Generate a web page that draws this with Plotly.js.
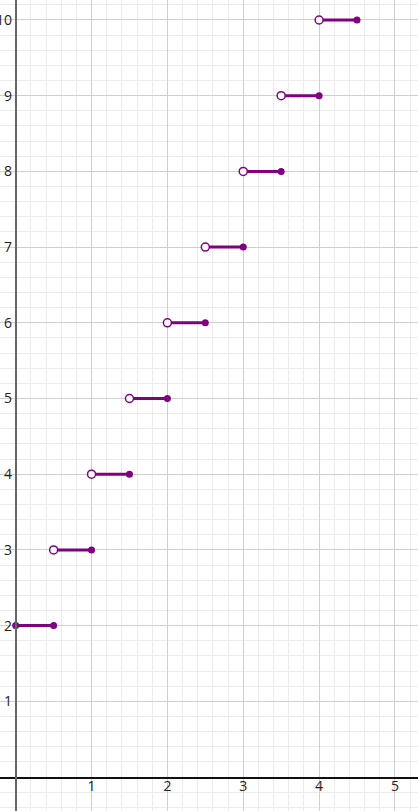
<!DOCTYPE html>
<html>
<head>
<meta charset="utf-8">
<script src="https://cdn.plot.ly/plotly-3.0.1.min.js"></script>
<style>html,body{margin:0;padding:0;background:#fff}#chart{width:418px;height:811px}</style>
</head>
<body>
<div id="chart"></div>
<script>
// Step function segments: y = level on [xStart, xEnd]
const levels = [2, 3, 4, 5, 6, 7, 8, 9, 10];
const xStart = [0, 0.5, 1, 1.5, 2, 2.5, 3, 3.5, 4];
const xEnd   = [0.5, 1, 1.5, 2, 2.5, 3, 3.5, 4, 4.5];
// left endpoint closed (true) or open (false)
const leftClosed = [true, false, false, false, false, false, false, false, false];

const xTickVals = [1, 2, 3, 4, 5];
const xTickText = ['1', '2', '3', '4', '5'];
const yTickVals = [1, 2, 3, 4, 5, 6, 7, 8, 9, 10];
const yTickText = ['1', '2', '3', '4', '5', '6', '7', '8', '9', '10'];

const purple = '#800080';

const lx = [], ly = [];
levels.forEach((v, i) => { lx.push(xStart[i], xEnd[i], null); ly.push(v, v, null); });

const fx = [], fy = [], ox = [], oy = [];
levels.forEach((v, i) => {
  fx.push(xEnd[i]); fy.push(v);
  if (leftClosed[i]) { fx.push(xStart[i]); fy.push(v); } else { ox.push(xStart[i]); oy.push(v); }
});

const traces = [
  {x: lx, y: ly, mode: 'lines', line: {color: purple, width: 3}, hoverinfo: 'skip', cliponaxis: false},
  {x: fx, y: fy, mode: 'markers', marker: {color: purple, size: 7}, cliponaxis: false},
  {x: ox, y: oy, mode: 'markers', marker: {color: '#ffffff', size: 8, line: {color: purple, width: 1.5}}, cliponaxis: false}
];

const xr = [-0.207, 5.304], yr = [-0.449, 10.264];
const layout = {
  width: 418, height: 811,
  margin: {l: 0, r: 0, t: 0, b: 0},
  paper_bgcolor: '#fff', plot_bgcolor: '#fff',
  showlegend: false,
  font: {family: 'Open Sans, Noto Sans, sans-serif', size: 14, color: '#222'},
  xaxis: {
    range: xr, anchor: 'free', position: (0 - yr[0]) / (yr[1] - yr[0]),
    tickmode: 'array', tickvals: xTickVals, ticktext: xTickText,
    ticks: '', ticklabelstandoff: -4,
    showgrid: true, gridcolor: '#cfcfcf', gridwidth: 1,
    minor: {tickmode: 'linear', tick0: 0, dtick: 0.2, showgrid: true, gridcolor: '#ececec', gridwidth: 1},
    zeroline: true, zerolinecolor: '#666', zerolinewidth: 2,
    showline: true, linecolor: '#111', linewidth: 1.5,
    fixedrange: true
  },
  yaxis: {
    range: yr, anchor: 'free', position: (0 - xr[0]) / (xr[1] - xr[0]),
    tickmode: 'array', tickvals: yTickVals, ticktext: yTickText,
    ticks: '', ticklabelstandoff: 0,
    showgrid: true, gridcolor: '#cfcfcf', gridwidth: 1,
    minor: {tickmode: 'linear', tick0: 0, dtick: 0.2, showgrid: true, gridcolor: '#ececec', gridwidth: 1},
    zeroline: false,
    showline: true, linecolor: '#666', linewidth: 2,
    fixedrange: true
  }
};

Plotly.newPlot('chart', traces, layout, {displayModeBar: false, staticPlot: true});
</script>
</body>
</html>
